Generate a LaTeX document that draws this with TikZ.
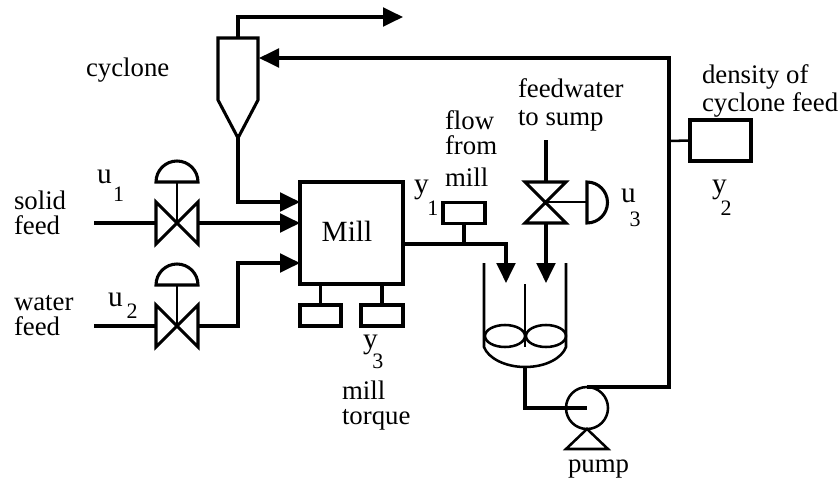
\documentclass[tikz,border=0pt]{standalone}
\usepackage{fontspec}
\setmainfont{Liberation Serif}
\usetikzlibrary{arrows.meta}
% #1 letter, #2 gap, #3 drop, #4 digit
\newcommand{\subdrop}[4]{#1\kern#2pt\raisebox{-#3pt}{\fontsize{16.5pt}{16.5pt}\selectfont #4}}
\tikzset{
  pipe/.style={line width=2.3pt,line join=miter},
  thin pipe/.style={line width=1.9pt},
  flow/.style={pipe,-{Triangle[length=15pt,width=14pt]}},
  box/.style={draw,line width=2.3pt,rectangle,outer sep=0pt,inner sep=0pt},
  lbl/.style={anchor=base west,inner sep=0pt,outer sep=0pt,align=left,font=\fontsize{20.1pt}{18.75pt}\selectfont},
  symb/.style={lbl,font=\fontsize{22pt}{22pt}\selectfont},
}
\begin{document}
\begin{tikzpicture}[x=0.75pt,y=-0.75pt]
\useasboundingbox (0,0) rectangle (840,482);
% equipment boxes
\node[box,minimum width=77.25pt,minimum height=76.5pt] (mill) at (351.5,233) {};
\node[lbl,anchor=base,font=\fontsize{22pt}{22pt}\selectfont] (milltext) at (347,241) {Mill};
\node[box,minimum width=31.5pt,minimum height=15.5pt] (flowsens) at (464,213) {};
\node[box,minimum width=45.75pt,minimum height=30.75pt] (dens) at (720.5,140.5) {};
\node[box,minimum width=30.75pt,minimum height=15.75pt] (tq1) at (320.5,315.5) {};
\node[box,minimum width=31.5pt,minimum height=15.75pt] (tq2) at (382,315.5) {};
% key coordinates
\coordinate (cyctop) at (238,38);
\coordinate (cycapex) at (238,138);
\coordinate (v1) at (177,223);
\coordinate (v2) at (177,326);
\coordinate (v3) at (546,202);
\coordinate (pumpc) at (587,408);
\coordinate (sumpout) at (525,367);
% cyclone
\draw[pipe] (218,38) -- (258,38) -- (258,100) -- (cycapex) -- (218,100) -- cycle;
\draw[flow] (cyctop) -- (238,17) -- (403,17);
\draw[flow] (pumpc |- 0,387) -- (669,387) -- (669,58) -- (259,58);
\draw[thin pipe] (669,141) -- (dens.west);
\draw[flow] (cycapex) -- (238,202) -- (300,202);
% valve 1
\draw[pipe] (156,202) -- (198,244) -- (198,202) -- (156,244) -- cycle;
\draw[thin pipe] (v1) -- (177,182);
\draw[pipe] (156,182) -- (198,182) arc[start angle=0,end angle=-180,radius=21] -- cycle;
\draw[pipe] (94,223) -- (156,223);
\draw[flow] (198,223) -- (300,223);
% valve 2
\draw[pipe] (156,305) -- (198,347) -- (198,305) -- (156,347) -- cycle;
\draw[thin pipe] (v2) -- (177,285);
\draw[pipe] (156,285) -- (198,285) arc[start angle=0,end angle=-180,radius=21] -- cycle;
\draw[pipe] (94,326) -- (156,326);
\draw[flow] (198,326) -- (238,326) -- (238,263) -- (300,263);
% mill torque stems
\draw[pipe] (tq1.north) -- (tq1.north |- mill.south);
\draw[pipe] (tq2.north) -- (tq2.north |- mill.south);
% mill outlet
\draw[flow] (403,244) -- (506,244) -- (506,283);
\draw[pipe] (flowsens.south) -- (464,244);
% valve 3
\draw[pipe] (525,182) -- (566,182) -- (525,223) -- (566,223) -- cycle;
\draw[pipe] (546,140) -- (546,182);
\draw[thin pipe] (v3) -- (587,202);
\draw[pipe] (587,182) arc[start angle=-90,end angle=90,radius=20.5] -- cycle;
\draw[flow] (546,223) -- (546,283);
% sump
\draw[thin pipe] (484,263) -- (484,347) .. controls (488,358) and (505,367) .. (sumpout) .. controls (546,367) and (562,358) .. (566,347) -- (566,263);
\draw[thin pipe] (525,284) -- (525,347);
\draw[thin pipe] (505,336) ellipse[x radius=20,y radius=11];
\draw[thin pipe] (546,336) ellipse[x radius=20,y radius=11];
% pump
\draw[pipe] (sumpout) -- (525,408) -- (pumpc);
\draw[thin pipe] (pumpc) circle[radius=21];
\draw[thin pipe] (587,429) -- (608,449) -- (566,449) -- cycle;
% labels
\node[lbl] (lcyc) at (86,76) {cyclone};
\node[lbl] (lsolid) at (14,234.5) {solid\\feed};
\node[lbl] (lwater) at (14,335) {water\\feed};
\node[symb] (lu1) at (97,183) {\subdrop{u}{1}{13.5}{1}};
\node[symb] (lu2) at (108,306) {\subdrop{u}{3}{9}{2}};
\node[symb] (lu3) at (621,202) {\subdrop{u}{-4.5}{18.5}{3}};
\node[symb] (ly1) at (414,193) {\subdrop{y}{-1}{16.5}{1}};
\node[symb] (ly2) at (712,193) {\subdrop{y}{-4.5}{16.5}{2}};
\node[symb] (ly3) at (363,348) {\subdrop{y}{-4}{15}{3}};
\node[lbl] (lflow) at (445,186) {flow\\from\\[5pt]mill};
\node[lbl,font=\fontsize{20.1pt}{21pt}\selectfont] (lfeedw) at (518,125) {feedwater\\to sump};
\node[lbl,font=\fontsize{20.1pt}{21pt}\selectfont] (ldens) at (702,111) {density of\\cyclone feed};
\node[lbl] (ltorque) at (342,424) {mill\\torque};
\node[lbl] (lpump) at (568,472) {pump};
\end{tikzpicture}
\end{document}
